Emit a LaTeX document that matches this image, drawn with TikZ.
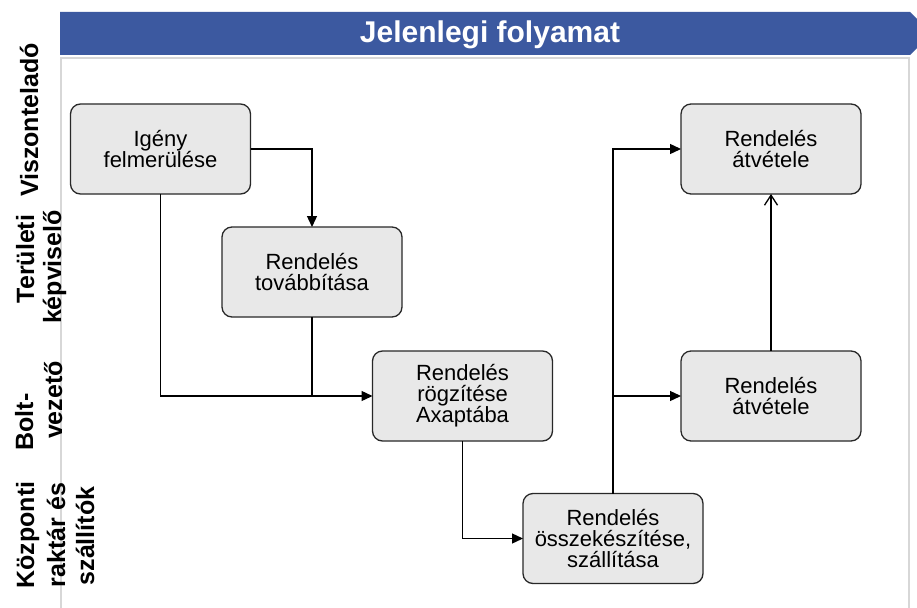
\documentclass[tikz,border=0pt]{standalone}
\usepackage{fontspec}
\setmainfont{Liberation Sans}
\usetikzlibrary{arrows.meta}
\definecolor{bannerblue}{RGB}{60,89,160}
\definecolor{boxfill}{RGB}{232,232,232}
\definecolor{boxline}{RGB}{40,40,40}
\definecolor{panelline}{RGB}{215,215,215}
\tikzset{
  stepbox/.style={draw=boxline, fill=boxfill, line width=1.3pt, rounded corners=10pt,
    minimum width=180pt, minimum height=90pt, inner sep=0pt, outer sep=0pt,
    align=center, font=\fontsize{22}{21}\selectfont},
  lanelabel/.style={rotate=90, anchor=base, inner sep=0pt, font=\bfseries\fontsize{25}{25}\selectfont},
  flow/.style={line width=1.3pt, draw=black},
  flowarrow/.style={flow, -{Triangle[length=11pt,width=10pt]}},
  openarrow/.style={flow, -{Straight Barb[length=10pt,width=13pt]}},
}
\begin{document}
\begin{tikzpicture}[x=1pt, y=-1pt]
\useasboundingbox (0,0) rectangle (917,607);
% banner
\begin{scope}
\clip (0,0) rectangle (917,607);
\fill[bannerblue] (60,12) -- (910,12) -- (931.5,33.5) -- (910,55) -- (60,55) -- cycle;
\end{scope}
\node[text=white, font=\bfseries\fontsize{30}{30}\selectfont] (title) at (490,35) {Jelenlegi folyamat};
% panel
\draw[panelline, line width=2pt] (61,608) -- (61,58) -- (909,58) -- (909,608);
% lane labels
\node[lanelabel] (l1) at (38,120) {Viszonteladó};
\node[lanelabel] (l2a) at (34,259) {Területi};
\node[lanelabel] (l2b) at (61,267) {képviselő};
\node[lanelabel] (l3a) at (33,422) {Bolt-};
\node[lanelabel] (l3b) at (62,400) {vezető};
\node[lanelabel] (l4a) at (34,535) {Központi};
\node[lanelabel] (l4b) at (65,535) {raktár és};
\node[lanelabel] (l4c) at (94,536) {szállítók};
% boxes
\node[stepbox] (n1) at (160.5,149) {Igény\\felmerülése};
\node[stepbox] (n2) at (312,272) {Rendelés\\továbbítása};
\node[stepbox] (n3) at (462.5,396) {Rendelés\\rögzítése\\Axaptába};
\node[stepbox] (n4) at (613,538.5) {Rendelés\\összekészítése,\\szállítása};
\node[stepbox] (n5) at (771,396) {Rendelés\\átvétele};
\node[stepbox] (n6) at (771,149) {Rendelés\\átvétele};
% connectors
\draw[flowarrow] (n1.east) -| (n2.north);
\draw[flowarrow] (n1.south) |- (n3.west);
\draw[flow] (n2.south) -- (n2.south |- n3.west);
\draw[flowarrow] (n3.south) |- (n4.west);
\draw[flowarrow] (n4.north) |- (n6.west);
\draw[flowarrow] (n4.north |- n5.west) -- (n5.west);
\draw[openarrow] (n5.north) -- (n6.south);
\end{tikzpicture}
\end{document}
